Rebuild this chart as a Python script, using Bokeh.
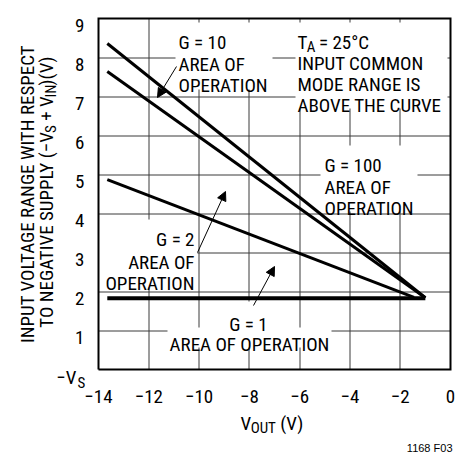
import math
from bokeh.plotting import figure
from bokeh.models import Range1d, Arrow, NormalHead
from bokeh.core.properties import value
from bokeh.embed import file_html
from bokeh.resources import INLINE

# ---------------- data ----------------
x_ticks = [-14, -12, -10, -8, -6, -4, -2, 0]
x_tick_labels = ["\u221214", "\u221212", "\u221210", "\u22128", "\u22126", "\u22124", "\u22122", "0"]
y_ticks = [0, 1, 2, 3, 4, 5, 6, 7, 8, 9]
y_tick_labels = ["", "1", "2", "3", "4", "5", "6", "7", "8", "9"]

vout_upper = [-13.65, -1.0]
vin_upper = [8.36, 1.84]
vout_lower = [-13.65, -1.0]
vin_lower = [7.64, 1.84]
vout_g2 = [-13.65, -1.45]
vin_g2 = [4.87, 1.85]
vout_g1 = [-13.65, -1.0]
vin_g1 = [1.83, 1.83]

# ---------------- layout helpers ----------------
FONT = "Roboto Condensed, Roboto"
FS = 19            # main font size (px)
SS = 15            # subscript font size (px)
WF = 0.80          # width factor of the font relative to Helvetica metrics
W, H = 456, 452    # canvas size
PX = (98, 450)     # pixel positions of x = -14 and x = 0
PY = (369, 18)     # pixel positions of y = 0 and y = 9


def dx(px):
    return x_ticks[0] + (px - PX[0]) * (x_ticks[-1] - x_ticks[0]) / (PX[1] - PX[0])


def dy(py):
    return y_ticks[0] + (PY[0] - py) * (y_ticks[-1] - y_ticks[0]) / (PY[0] - PY[1])


def tx(v):  # data -> pixel (x)
    return PX[0] + (v - x_ticks[0]) * (PX[1] - PX[0]) / (x_ticks[-1] - x_ticks[0])


def ty(v):  # data -> pixel (y)
    return PY[0] - (v - y_ticks[0]) * (PY[0] - PY[1]) / (y_ticks[-1] - y_ticks[0])


PPY = (y_ticks[-1] - y_ticks[0]) / (PY[0] - PY[1])   # data units per pixel (y)

HW = {" ": 278, "(": 333, ")": 333, "+": 584, "\u2212": 584, "=": 584, "\u00b0": 400,
      "A": 667, "B": 667, "C": 722, "D": 722, "E": 667, "F": 611, "G": 778, "H": 722,
      "I": 278, "J": 500, "K": 667, "L": 556, "M": 833, "N": 722, "O": 778, "P": 667,
      "Q": 778, "R": 722, "S": 667, "T": 611, "U": 722, "V": 667, "W": 944, "X": 667,
      "Y": 667, "Z": 611}


def tw(s, size):
    return sum(HW.get(c, 556) for c in s) * WF * size / 1000


p = figure(width=W, height=H, output_backend="svg", toolbar_location=None,
           x_range=Range1d(dx(0), dx(W)), y_range=Range1d(dy(H), dy(0)),
           x_axis_type=None, y_axis_type=None, min_border=0)
p.outline_line_color = None
p.background_fill_color = "white"
p.border_fill_color = "white"

# text blocks leave gaps in the grid (pixel boxes: left, right, top, bottom)
boxes = [(175, 272, 22, 89), (295, 447, 22, 108), (320, 417, 145, 211),
         (98, 197, 219, 287), (225, 270, 301, 326), (167, 331, 327, 347)]


def visible_parts(lo, hi, gaps):
    parts, cur = [], lo
    for a, b in sorted(gaps):
        if b <= cur or a >= hi:
            continue
        if a > cur:
            parts.append((cur, a))
        cur = max(cur, b)
    if cur < hi:
        parts.append((cur, hi))
    return parts


# grid pieces, snapped to pixel centres so that they render as crisp 1px lines
GRID = "#3a3a3a"
mxs, mys = [], []
for t in x_ticks[1:-1]:
    xp = math.floor(tx(t)) + 0.5
    gaps = [(b[2], b[3]) for b in boxes if b[0] <= xp <= b[1]]
    for a, b in visible_parts(PY[1], PY[0], gaps):
        mxs.append([dx(xp), dx(xp)]); mys.append([dy(b), dy(a)])
for t in y_ticks[1:-1]:
    yp = math.floor(ty(t)) + 0.5
    gaps = [(b[0], b[1]) for b in boxes if b[2] <= yp <= b[3]]
    for a, b in visible_parts(PX[0], PX[1], gaps):
        mxs.append([dx(a), dx(b)]); mys.append([dy(yp), dy(yp)])
p.multi_line(xs=mxs, ys=mys, line_color=GRID, line_width=1)

# curves
p.line(vout_upper, vin_upper, line_color="black", line_width=3)
p.line(vout_lower, vin_lower, line_color="black", line_width=3)
p.line(vout_g2, vin_g2, line_color="black", line_width=3)
p.line(vout_g1, vin_g1, line_color="black", line_width=4)

# plot frame
p.line([x_ticks[0], x_ticks[-1], x_ticks[-1], x_ticks[0], x_ticks[0]],
       [y_ticks[0], y_ticks[0], y_ticks[-1], y_ticks[-1], y_ticks[0]],
       line_color="black", line_width=2, line_join="miter")

# tick labels
p.text(x=x_ticks, y=[dy(396)] * len(x_ticks), text=x_tick_labels,
       text_font=value(FONT), text_font_size=value(f"{FS}px"), text_color="black",
       text_align="center", text_baseline="alphabetic")
p.text(x=[dx(84)] * len(y_ticks), y=[t - 7 * PPY for t in y_ticks], text=y_tick_labels,
       text_font=value(FONT), text_font_size=value(f"{FS}px"), text_color="black",
       text_align="right", text_baseline="alphabetic")


def txt(px, py, text, size=FS, align="left", angle=0.0, font=FONT):
    p.text(x=[dx(px)], y=[dy(py)], text=[text], text_font=value(font),
           text_font_size=value(f"{size}px"), text_align=align,
           text_baseline="alphabetic", angle=angle, text_color="black")


def compose(px, py, pieces, vertical=False):
    """pieces: (text, size, baseline shift in px). Leading blanks are turned into offsets."""
    cur = 0.0
    for t, s, sh in pieces:
        lead = len(t) - len(t.lstrip(" "))
        off = cur + tw(" " * lead, s)
        if vertical:
            txt(px + sh, py - off, t.lstrip(" "), size=s, angle=math.pi / 2)
        else:
            txt(px + off, py + sh, t.lstrip(" "), size=s)
        cur += tw(t, s)
    return cur


CAP = 6.7  # half cap height -> baseline offset from line centre

# G = 10 block
for t, c in (("G = 10", 35), ("AREA OF", 57), ("OPERATION", 78)):
    txt(178, c + CAP, t)

# T_A block
x0 = 297
compose(x0, 35 + CAP, [("T", FS, 0), ("A", SS, 5), (" = 25\u00b0C", FS, 0)])
for t, c in (("INPUT COMMON", 56), ("MODE RANGE IS", 77), ("ABOVE THE CURVE", 98)):
    txt(x0, c + CAP, t)

# G = 100 block
for t, c in (("G = 100", 158), ("AREA OF", 180), ("OPERATION", 201)):
    txt(324, c + CAP, t)

# G = 2 block
for t, c in (("G = 2", 232), ("AREA OF", 255), ("OPERATION", 276)):
    txt(194, c + CAP, t, align="right")

# G = 1 block
txt(248, 317 + CAP, "G = 1", align="center")
txt(249, 337 + CAP, "AREA OF OPERATION", align="center")

# arrows
for (sx, sy, ex, ey) in ((176, 66, 157, 97), (197, 252, 225, 191), (253, 305, 274, 266)):
    p.add_layout(Arrow(x_start=dx(sx), y_start=dy(sy), x_end=dx(ex), y_end=dy(ey),
                       line_width=1, line_color="black",
                       end=NormalHead(size=9, fill_color="black", line_color="black", line_width=1)))

# -V_S at the origin of the y axis
txt(76, 377, "\u2212V", align="right")
txt(77, 382, "S", size=SS)

# x axis title  V_OUT (V)
compose(240, 423, [("V", FS, 0), ("OUT", SS, 4), (" (V)", FS, 0)])

# y axis title, two rotated lines
txt(27, 193.5, "INPUT VOLTAGE RANGE WITH RESPECT", align="center", angle=math.pi / 2)
pieces = [("TO NEGATIVE SUPPLY (\u2212V", FS, 0), ("S", SS, 4), (" + V", FS, 0),
          ("IN", SS, 4), (")(V)", FS, 0)]
total = sum(tw(t, s) for t, s, _ in pieces)
compose(46, 193.5 + total / 2, pieces, vertical=True)

# figure code
txt(452, 447, "1168 F03", size=11, align="right", font="Liberation Sans")

open("out.html", "w").write(file_html(p, INLINE))
